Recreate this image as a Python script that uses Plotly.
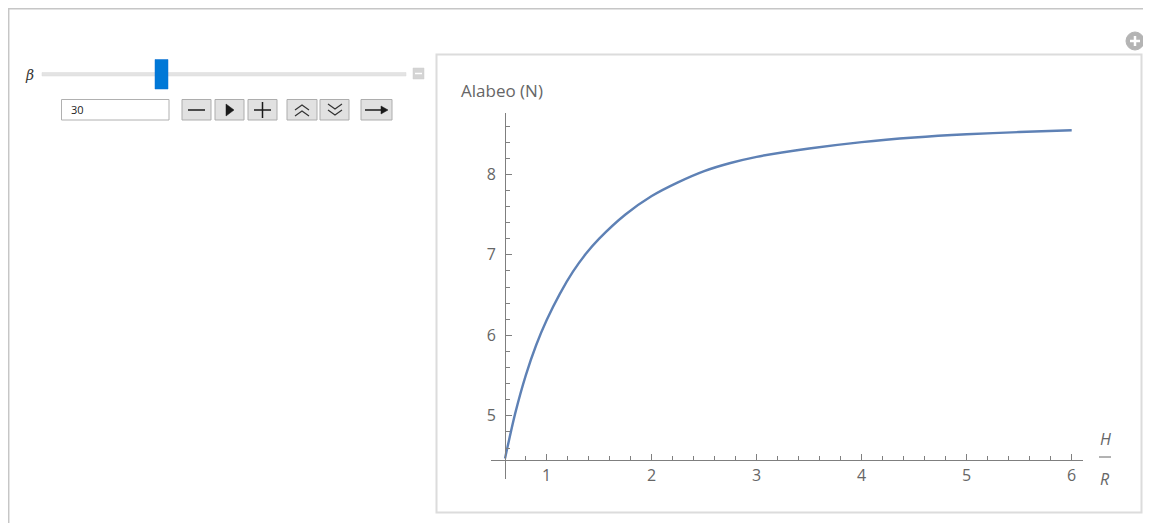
import plotly.graph_objects as go

# ---- data ----
h_over_r = [0.603, 0.7, 0.8, 0.9, 1.0, 1.125, 1.25, 1.375, 1.5, 1.75,
            2.0, 2.25, 2.5, 2.75, 3.0, 3.5, 4.0, 4.5, 5.0, 5.5, 6.0]
alabeo = [4.47, 5.03, 5.50, 5.88, 6.19, 6.515, 6.79, 7.015, 7.20, 7.50,
          7.73, 7.90, 8.04, 8.14, 8.217, 8.32, 8.40, 8.457, 8.497, 8.525, 8.547]
x_ticks = [1, 2, 3, 4, 5, 6]
y_ticks = [5, 6, 7, 8]
x_minor = [0.8, 1.2, 1.4, 1.6, 1.8, 2.2, 2.4, 2.6, 2.8, 3.2, 3.4, 3.6, 3.8,
           4.2, 4.4, 4.6, 4.8, 5.2, 5.4, 5.6, 5.8]
y_minor = [4.6, 4.8, 5.2, 5.4, 5.6, 5.8, 6.2, 6.4, 6.6, 6.8, 7.2, 7.4, 7.6, 7.8,
           8.2, 8.4, 8.6]
beta_value = "30"
y_label = "Alabeo (N)"

# page body has an 8px margin: figure occupies page pixels 8..1151 x 8..523
OFF = 8
W, H = 1151 - OFF, 523 - OFF


def P(x):
    return (x - OFF) / W


def Q(y):
    return 1 - (y - OFF) / H


AX = "#7f7f7f"
TXT = "#666666"
FONT = "Open Sans, Liberation Sans, Arial, sans-serif"

fig = go.Figure()
fig.add_trace(go.Scatter(x=h_over_r, y=alabeo, mode="lines",
                         line=dict(color="#5e81b5", width=2.4, shape="spline", smoothing=0.8),
                         hoverinfo="skip", showlegend=False))

# plot area geometry (reference pixels)
x0p, x1p = 491, 1083
y0p, y1p = 479, 113
# data mapping: x=1 at 546.7, 105 px/unit ; y=8 at 174.3, 80.5 px/unit
xr = [1 + (x0p - 546.7) / 105, 1 + (x1p - 546.7) / 105]
yr = [8 - (y0p - 174.3) / 80.5, 8 - (y1p - 174.3) / 80.5]

fig.update_layout(
    width=W, height=H,
    margin=dict(l=0, r=0, t=0, b=0),
    paper_bgcolor="white", plot_bgcolor="rgba(0,0,0,0)",
    font=dict(family=FONT, color=TXT, size=14),
    xaxis=dict(domain=[P(x0p), P(x1p)], range=xr, anchor="free", position=Q(459.5),
               showgrid=False, zeroline=False, showline=True, linecolor=AX, linewidth=1,
               ticks="inside", ticklen=6, tickcolor=AX, tickwidth=1,
               tickmode="array", tickvals=x_ticks, ticktext=[str(v) for v in x_ticks],
               tickfont=dict(size=16, color=TXT, family=FONT), ticklabelstandoff=1,
               minor=dict(tickmode="array", tickvals=x_minor, ticks="inside",
                          ticklen=3.5, tickcolor=AX, tickwidth=1, showgrid=False),
               fixedrange=True),
    yaxis=dict(domain=[Q(y0p), Q(y1p)], range=yr, anchor="free", position=P(505),
               showgrid=False, zeroline=False, showline=True, linecolor=AX, linewidth=1,
               ticks="inside", ticklen=6, tickcolor=AX, tickwidth=1,
               tickmode="array", tickvals=y_ticks, ticktext=[str(v) for v in y_ticks],
               tickfont=dict(size=16, color=TXT, family=FONT), ticklabelstandoff=6,
               minor=dict(tickmode="array", tickvals=y_minor, ticks="inside",
                          ticklen=3.5, tickcolor=AX, tickwidth=1, showgrid=False),
               fixedrange=True),
)

shapes = []
ann = []


def pline(xa, ya, xb, yb, color, width):
    shapes.append(dict(type="line", xref="paper", yref="paper", x0=P(xa), x1=P(xb), y0=Q(ya), y1=Q(yb),
                       line=dict(color=color, width=width)))


def prect(xa, ya, xb, yb, fill, color, width):
    shapes.append(dict(type="rect", xref="paper", yref="paper", x0=P(xa), x1=P(xb), y0=Q(yb), y1=Q(ya),
                       line=dict(color=color, width=width), fillcolor=fill))


def ppath(pts, closed, color, width, fill=None):
    d = "M " + " L ".join(f"{P(a)} {Q(b)}" for a, b in pts) + (" Z" if closed else "")
    s = dict(type="path", xref="paper", yref="paper", path=d, line=dict(color=color, width=width))
    if fill:
        s["fillcolor"] = fill
    shapes.append(s)


# outer frame (top and left lines)
pline(8, 8.7, 1151, 8.7, "#c6c6c6", 1.5)
pline(8.7, 8, 8.7, 523, "#c6c6c6", 1.5)
# inner plot panel
prect(436.5, 54.5, 1141.5, 512.5, "rgba(0,0,0,0)", "#dcdcdc", 2)
# plus circle icon
shapes.append(dict(type="circle", xref="paper", yref="paper", x0=P(1126), x1=P(1144), y0=Q(50), y1=Q(32),
                   line=dict(color="#b4b4b4", width=1), fillcolor="#b4b4b4"))
pline(1130, 41, 1140, 41, "white", 2.5)
pline(1135, 36, 1135, 46, "white", 2.5)

# slider track
prect(42, 72.5, 406, 76, "#e3e3e3", "#dadada", 0.5)
# slider thumb
prect(155, 59.5, 168, 89, "#0078d7", "#0a6fd0", 0.5)
# slider end icon
prect(413, 68, 424, 79, "#d4d4d4", "#cfcfcf", 0.5)
pline(415, 73.5, 422, 73.5, "white", 1.5)
# input box
prect(61.5, 99.5, 169, 120, "white", "#b0b0b0", 1)

# buttons
buttons = [(182, 211), (215, 244), (248, 277), (287, 317), (320, 349), (361, 392)]
for bx0, bx1 in buttons:
    prect(bx0, 99.5, bx1, 120, "#e1e1e1", "#adadad", 1)
cy = 110
DK = "#1a1a1a"
# minus
pline(188, cy, 205, cy, DK, 1.5)
# play
ppath([(226, 104), (234, 110), (226, 116)], True, DK, 0.5, DK)
# plus
pline(254, cy, 271, cy, DK, 1.5)
pline(262.5, 102, 262.5, 118, DK, 1.5)
# double chevron up
for yy in (105, 111):
    ppath([(295, yy + 5), (302, yy), (309, yy + 5)], False, "#333333", 1.2)
# double chevron down
for yy in (104, 110):
    ppath([(328, yy), (335, yy + 5), (342, yy)], False, "#333333", 1.2)
# right arrow
pline(365, cy, 382, cy, DK, 1.5)
ppath([(381, 106), (388, 110), (381, 114)], True, DK, 0.5, DK)

# H/R fraction bar
pline(1099, 457, 1111, 457, TXT, 1)


def text(t, x, y, size, color, family=FONT, xanchor="center"):
    ann.append(dict(text=t, x=P(x), y=Q(y), xref="paper", yref="paper", showarrow=False,
                    xanchor=xanchor, yanchor="middle",
                    font=dict(size=size, color=color, family=family)))


text("<i>β</i>", 29, 75, 14, "#333333", "DejaVu Serif, serif")
text(beta_value, 69, 110, 11, "#222222", xanchor="left")
text(y_label, 459, 90, 17, TXT, xanchor="left")
text("<i>H</i>", 1105, 439, 16, TXT)
text("<i>R</i>", 1105, 479, 16, TXT)

fig.update_layout(shapes=shapes, annotations=ann)
fig.write_html("out.html")
